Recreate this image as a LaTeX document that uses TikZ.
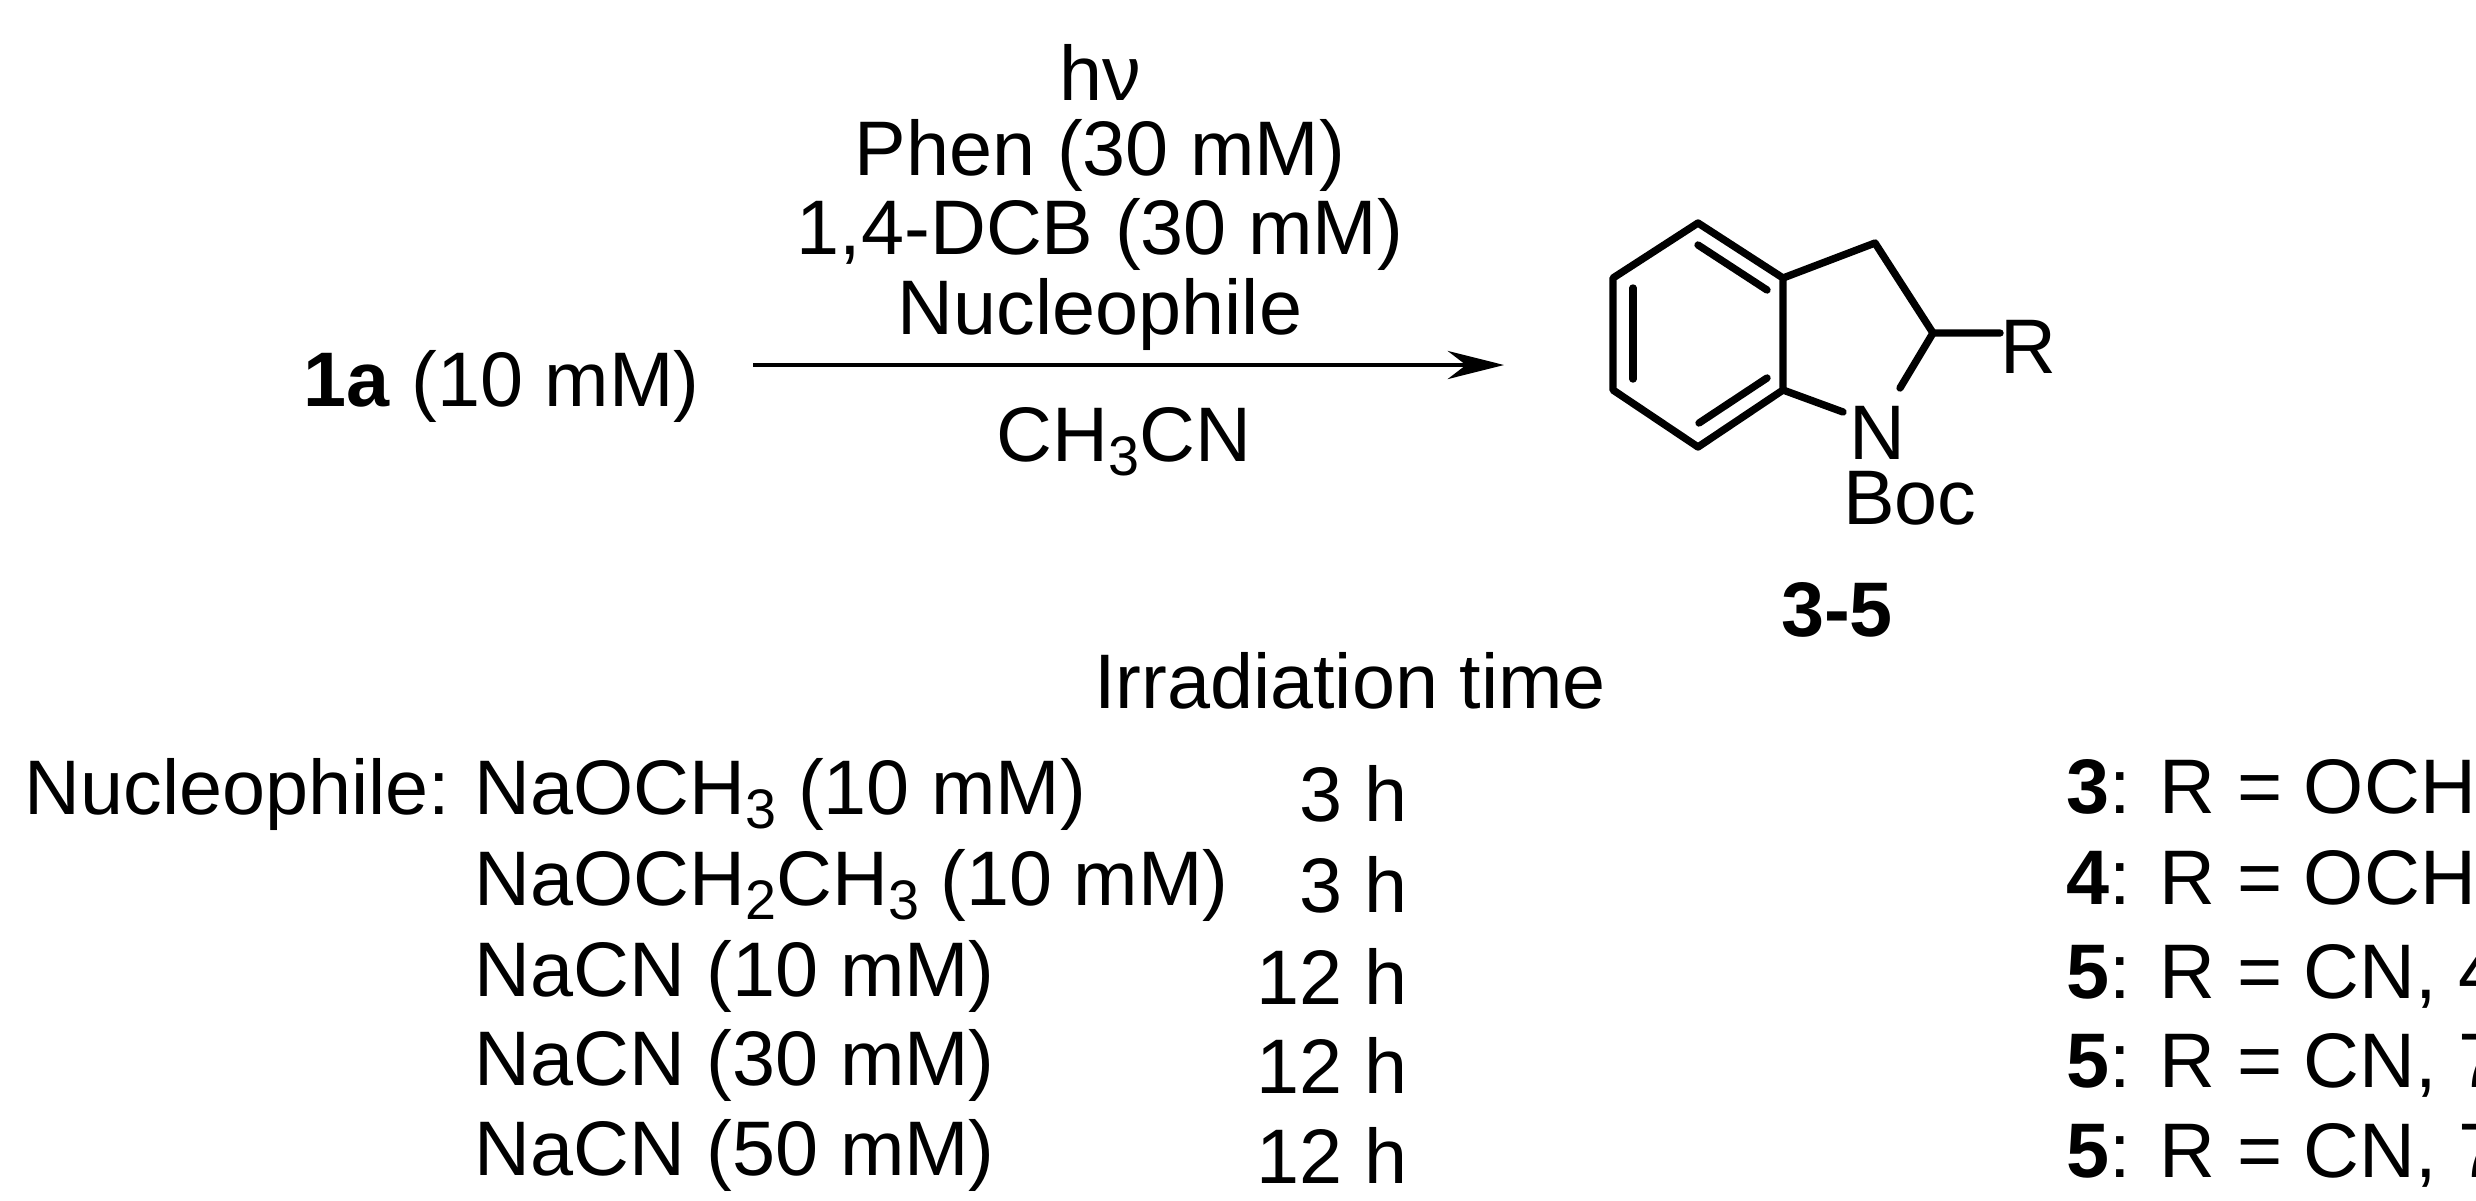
\documentclass[tikz,border=0pt]{standalone}
\usepackage{fontspec}
\setmainfont{Liberation Sans}
\usetikzlibrary{arrows.meta}
\newcommand\sbs[1]{\raisebox{-0.35ex}{\scalebox{0.72}{#1}}}
\begin{document}
\begin{tikzpicture}[x=0.01cm,y=-0.01cm,
  txt/.style={font=\fontsize{22pt}{26pt}\selectfont,inner sep=0pt},
  bond/.style={line width=2.1pt,line cap=round,line join=round}]
\useasboundingbox (0,0) rectangle (2476,1200);
% reaction
\node[txt,anchor=west] (sm) at (303,386) {\textbf{1a} (10 mM)};
\coordinate (a1) at (753,365);
\coordinate (a2) at (1504,365);
\draw[line width=1.3pt,-{Stealth[length=16pt,width=8pt]}] (a1) -- (a2);
\node[txt] (hv) at (1100,72) {hν};
\node[txt] (phen) at (1100,155) {Phen (30 mM)};
\node[txt] (dcb) at (1100,234) {1,4-DCB (30 mM)};
\node[txt] (nu) at (1100,314) {Nucleophile};
\node[txt] (sol) at (1124,442) {CH\sbs{3}CN};
% molecule
\coordinate (c1) at (1698,223);
\coordinate (c2) at (1613,278);
\coordinate (c3) at (1613,390);
\coordinate (c4) at (1698,447);
\coordinate (c7a) at (1783,390);
\coordinate (c3a) at (1783,278);
\coordinate (c3c) at (1875,243);
\coordinate (c2c) at (1933,333);
\coordinate (rend) at (2000,333);
\node[txt] (N) at (1877,433) {N};
\node[txt] (R) at (2028,347) {R};
\node[txt] (boc) at (1910,498) {Boc};
\node[txt,font=\fontsize{22pt}{26pt}\selectfont\bfseries] (lab) at (1837,610) {3-5};
\draw[bond] (c1)--(c2)--(c3)--(c4)--(c7a)--(c3a)--cycle;
\draw[bond] (c3a)--(c3c)--(c2c)--(rend);
\draw[bond] (c2c)--(1900,388);
\draw[bond] (c7a)--(1843,412);
\draw[bond] (1698,245)--(1767,290);
\draw[bond] (1633,288)--(1633,379);
\draw[bond] (1699,423)--(1767,378);
% table
\node[txt] (irr) at (1350,681) {Irradiation time};
\node[txt,anchor=west] (nl) at (24,794) {Nucleophile:};
\node[txt,anchor=west] (n1) at (474,794) {NaOCH\sbs{3} (10 mM)};
\node[txt,anchor=west] (n2) at (474,885) {NaOCH\sbs{2}CH\sbs{3} (10 mM)};
\node[txt,anchor=west] (n3) at (474,976) {NaCN (10 mM)};
\node[txt,anchor=west] (n4) at (474,1065) {NaCN (30 mM)};
\node[txt,anchor=west] (n5) at (474,1155) {NaCN (50 mM)};
\node[txt,anchor=east] (t1) at (1408,794) {3 h};
\node[txt,anchor=east] (t2) at (1408,885) {3 h};
\node[txt,anchor=east] (t3) at (1408,976) {12 h};
\node[txt,anchor=east] (t4) at (1408,1065) {12 h};
\node[txt,anchor=east] (t5) at (1408,1155) {12 h};
\node[txt,anchor=west] (p1) at (2066,794) {\textbf{3}: R = OCH\sbs{3}, 28\%};
\node[txt,anchor=west] (p2) at (2066,885) {\textbf{4}: R = OCH\sbs{2}CH\sbs{3}, 16\%};
\node[txt,anchor=west] (p3) at (2066,976) {\textbf{5}: R = CN, 42\%};
\node[txt,anchor=west] (p4) at (2066,1065) {\textbf{5}: R = CN, 70\%};
\node[txt,anchor=west] (p5) at (2066,1155) {\textbf{5}: R = CN, 72\%};
\end{tikzpicture}
\end{document}
